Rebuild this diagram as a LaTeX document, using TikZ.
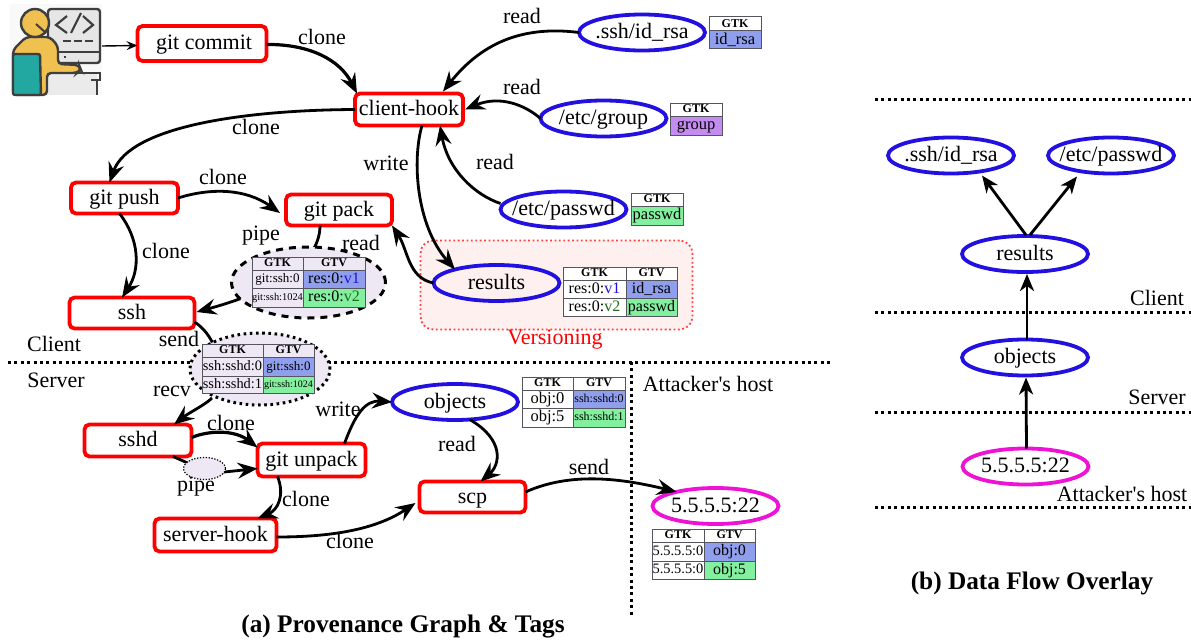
\documentclass[tikz,border=0pt]{standalone}
\usepackage{fontspec}
\setmainfont{Liberation Serif}
\newfontfamily\straightf{Liberation Serif}
\usetikzlibrary{arrows.meta,shapes.geometric,calc}
\definecolor{nodered}{HTML}{FF0000}
\definecolor{resblue}{HTML}{2210E0}
\definecolor{magent}{HTML}{EE12D6}
\definecolor{cellblue}{HTML}{8F9FEE}
\definecolor{cellgreen}{HTML}{82F09E}
\definecolor{cellpurple}{HTML}{C48CF0}
\definecolor{lav}{HTML}{EEE8F5}
\definecolor{tint}{HTML}{FDF0EE}
\definecolor{tblline}{HTML}{555560}
\definecolor{icondark}{HTML}{3E3E3E}
\definecolor{iconyel}{HTML}{F0C050}
\definecolor{iconteal}{HTML}{22A8A0}
\definecolor{icongrey}{HTML}{E6E6E6}
\definecolor{verdgreen}{HTML}{1E6B1E}
\newcommand{\fs}[1]{\fontsize{#1}{#1}\selectfont}
\newcommand{\zw}[1]{\hbox to 0pt{\hss\vphantom{Gg}\smash{\raisebox{-1.5pt}{#1}}\hss}}
\newcommand{\zc}[1]{\hbox to 0pt{\hss\vphantom{Gg}\smash{\raisebox{-0.7pt}{#1}}\hss}}
% name, x0, y0, x1, y1, fill, size, text
\newcommand{\cellbox}[8]{%
  \node[tcell,fill=#6,minimum width={(#4-#2)*1pt},minimum height={(#5-#3)*1pt}] (#1) at ({(#2+#4)/2},{(#3+#5)/2})
    {\fs{#7}\zc{#8}};}
\newcommand{\hdr}{\bfseries}
\tikzset{
  tcell/.style={draw=tblline,line width=1pt,inner sep=0pt,outer sep=0pt,rectangle},
  proc/.style={rectangle,draw=nodered,line width=3.8pt,rounded corners=5pt,fill=white,inner sep=0pt,outer sep=0pt,font=\fs{22}},
  res/.style={ellipse,draw=resblue,line width=3.8pt,fill=white,inner sep=0pt,outer sep=0pt,minimum width=126,minimum height=36,font=\fs{22}},
  sock/.style={res,draw=magent},
  lbl/.style={inner sep=0pt,font=\fs{22}},
  captxt/.style={inner sep=0pt,font=\fs{25.3}\bfseries},
  conn/.style={line width=2.8pt,draw=black,-{Stealth[length=20pt,width=16pt,inset=7pt]}},
  thinconn/.style={line width=1.4pt,draw=black,-{Stealth[length=11pt,width=9pt,inset=4pt]}},
  plainconn/.style={line width=2.8pt,draw=black},
  sepline/.style={line width=3pt,draw=black,dash pattern=on 3pt off 3.4pt},
  tagell/.style={ellipse,fill=lav,draw=black,line width=3pt,inner sep=0pt,outer sep=0pt},
  bconn/.style={line width=2.8pt,draw=black,-{Stealth[length=17pt,width=14pt,inset=5pt]}}
}
\begin{document}
\begin{tikzpicture}[x=1pt,y=-1pt]
\useasboundingbox (0,0) rectangle (1191,642);
% separators
\coordinate (sa) at (8,362); \coordinate (sb) at (833,362);
\coordinate (sc) at (631,362); \coordinate (sd) at (631,615);
\draw[sepline] (sa) -- (sb);
\draw[sepline] (sc) -- (sd);
\foreach \yy in {99,312,412,507}{\draw[sepline] (875,\yy) -- (1191,\yy);}
% versioning box
\node[rectangle,draw=red!75!white,fill=tint,line width=1.8pt,dash pattern=on 1.8pt off 2.6pt,rounded corners=13pt,minimum width=272,minimum height=89,inner sep=0pt] (verbox) at (556.5,285) {};
\node[lbl,text=red] (verlab) at (555,340) {Versioning};
% icon
\fill[icongrey!25] (10,4) rectangle (102,95);
\draw[icondark,fill=icongrey,line width=2.4pt,rounded corners=3pt] (48,9) rectangle (100,63);
\draw[icondark,line width=2.2pt] (58,52) -- (100,52);
\fill[icondark] (64,56) rectangle (66,58);
\draw[icondark,line width=2.2pt] (67,16) -- (56,25) -- (67,33);
\draw[icondark,line width=2.2pt] (81,13) -- (71,33);
\draw[icondark,line width=2.2pt] (83,16) -- (93,25) -- (83,33);
\draw[icondark,line width=1.8pt,dash pattern=on 8pt off 3pt] (63,41) -- (93,41);
\fill[icongrey!80] (47,73) rectangle (97,95);
\draw[icondark,line width=2.4pt] (47,73) -- (100,73) -- (100,80) -- (91,80);
\draw[icondark,line width=2.4pt] (97,80) -- (97,95);
\draw[icondark,fill=iconyel,line width=2.4pt,rounded corners=4pt] (13,95) -- (13,50) -- (26,37) -- (50,37) -- (58,46) -- (58,64) -- (79,65) -- (81,70) -- (77,73) -- (47,73) -- (47,95) -- cycle;
\draw[icondark,fill=iconteal,line width=2.4pt,rounded corners=2pt] (13,95) -- (13,54) -- (40,54) -- (41,95) -- cycle;
\draw[icondark,fill=iconyel,line width=2.4pt] (35,23) circle (14);
\draw[icondark,line width=2pt] (36,24) -- (46,33);
\coordinate (user) at (102,46);
% process nodes
\node[proc,minimum width=129,minimum height=35] (commit) at (202,43.5) {\zw{\hspace{4pt}git commit}};
\node[proc,minimum width=108,minimum height=32] (hook) at (409,109.5) {\zw{client-hook}};
\node[proc,minimum width=107,minimum height=31] (push) at (124.5,198) {\zw{git push}};
\node[proc,minimum width=106,minimum height=31] (pack) at (339,210) {\zw{git pack}};
\node[proc,minimum width=125,minimum height=31] (ssh) at (132,313) {\zw{ssh}};
\node[proc,minimum width=107,minimum height=32] (sshd) at (138,440.5) {\zw{sshd}};
\node[proc,minimum width=108,minimum height=33] (unpack) at (311.5,460) {\zw{git unpack}};
\node[proc,minimum width=122,minimum height=33] (shook) at (215.5,535) {\zw{server-hook}};
\node[proc,minimum width=106,minimum height=31] (scp) at (472.5,497) {\zw{scp}};
% resources
\node[res] (rsa) at (642,32.5) {\zw{.ssh/id\_rsa}};
\node[res] (group) at (603.5,118.5) {\zw{/etc/group}};
\node[res] (passwd) at (563.5,209.5) {\zw{/etc/passwd}};
\node[res,fill=tint] (results) at (496.5,283) {\zw{results}};
\node[res] (objects) at (455,402) {\zw{objects}};
\node[sock] (sock) at (715.5,506) {\zw{5.5.5.5:22}};
% edges
\draw[thinconn] (user) -- ([yshift=-2pt]commit.west);
\draw[conn,line width=3.2pt] ([yshift=-1pt]commit.east) .. controls (310,44) and (340,60) .. ([xshift=-52pt]hook.north);
\draw[conn] (hook.west) .. controls (250,110) and (130,125) .. ([xshift=-15pt]push.north);
\draw[conn] (push.east) .. controls (210,188) and (245,188) .. ([xshift=-6pt,yshift=-3pt]pack.west);
\draw[conn] ([xshift=-5pt]push.south) .. controls (140,240) and (140,270) .. ([xshift=-10pt]ssh.north);
\draw[conn] ([xshift=13pt]hook.south) .. controls (412,160) and (416,225) .. (results.162);
\draw[conn] (results.west) .. controls (408,278) and (408,250) .. (pack.south east);
\draw[conn] ([xshift=-19pt]pack.south) .. controls (320,265) and (270,292) .. ([xshift=2pt,yshift=1pt]ssh.east);
\draw[plainconn] ([yshift=-9pt]ssh.east) .. controls (212,333) and (225,360) .. (215,390);
\draw[conn] (212,398) .. controls (205,405) and (190,412) .. ([xshift=36pt]sshd.north);
\draw[conn,line width=3.2pt] ([yshift=3pt]sshd.east) .. controls (210,430) and (235,430) .. ([yshift=-4pt]unpack.north west);
\draw[plainconn] ([xshift=35pt]sshd.south) -- (190,464);
\draw[conn] (215,473) -- ([yshift=8pt]unpack.south west);
\draw[conn] ([xshift=-34pt]unpack.south) .. controls (285,495) and (278,510) .. ([xshift=42pt]shook.north);
\draw[conn] ([xshift=33pt]unpack.north) .. controls (355,415) and (365,400) .. (objects.west);
\draw[conn] (objects.-50) .. controls (505,440) and (500,465) .. ([xshift=8pt]scp.north);
\draw[conn] ([yshift=-2pt]shook.east) .. controls (330,537) and (375,530) .. ([xshift=-4pt,yshift=-6pt]scp.west);
\draw[conn] ([yshift=5pt]scp.east) .. controls (570,472) and (620,478) .. (sock.160);
\draw[conn] (rsa.west) .. controls (520,25) and (480,45) .. ([xshift=34pt,yshift=2pt]hook.north);
\draw[conn] (group.west) .. controls (525,105) and (500,95) .. ([xshift=2pt]hook.east);
\draw[conn] ([yshift=6pt]passwd.west) .. controls (475,195) and (448,170) .. ([xshift=31pt]hook.south);
% tag ellipses
\node[tagell,dash pattern=on 7pt off 6pt,minimum width=154,minimum height=71] (pipeA) at (308.5,282.5) {};
\node[tagell,dash pattern=on 2.6pt off 3.6pt,minimum width=140,minimum height=72] (sendA) at (260,369) {};
\node[tagell,line width=1.2pt,dash pattern=on 1.3pt off 1.6pt,minimum width=42,minimum height=22] (pipeB) at (204.5,468.5) {};
% labels
\node[lbl] (l1) at (322,37) {clone};
\node[lbl] (l2) at (256,127) {clone};
\node[lbl] (l3) at (223,177) {clone};
\node[lbl] (l4) at (166,251) {clone};
\node[lbl] (l5) at (522,16) {read};
\node[lbl] (l6) at (522,87) {read};
\node[lbl] (l7) at (495,162) {read};
\node[lbl] (l8) at (386,163) {write};
\node[lbl] (l9) at (261,236) {pipe};
\node[lbl] (l10) at (361,243) {read};
\node[lbl] (l11) at (179,339) {send};
\node[lbl] (l12) at (172,391) {recv};
\node[lbl] (l13) at (231,423) {clone};
\node[lbl] (l14) at (338,409) {write};
\node[lbl] (l15) at (457,444) {read};
\node[lbl] (l16) at (196,487) {pipe};
\node[lbl] (l17) at (306,499) {clone};
\node[lbl] (l18) at (350,541) {clone};
\node[lbl] (l19) at (589,467) {send};
\node[lbl] (cl) at (54,344) {Client};
\node[lbl] (sv) at (56,380) {Server};
\node[lbl] (ah) at (708,384) {\straightf Attacker's host};
\node[captxt] (capa) at (403,627) {(a) Provenance Graph \& Tags};
\node[captxt] (capb) at (1032,583) {(b) Data Flow Overlay};
% tables
\cellbox{ta1}{709}{17}{761}{31}{white}{12}{\hdr GTK}
\cellbox{ta2}{709}{31}{761}{49}{cellblue}{16.5}{id\_rsa}
\cellbox{tb1}{670}{103}{722}{116}{white}{12}{\hdr GTK}
\cellbox{tb2}{670}{116}{722}{135}{cellpurple}{16.5}{group}
\cellbox{tc1}{631}{193}{683}{206}{white}{12}{\hdr GTK}
\cellbox{tc2}{631}{206}{683}{225}{cellgreen}{16.5}{passwd}
% results table
\cellbox{td1}{563}{267}{626}{280}{white}{12}{\hdr GTK}
\cellbox{td2}{626}{267}{677}{280}{white}{12}{\hdr GTV}
\cellbox{td3}{563}{280}{626}{298}{white}{16}{res:0:\textcolor{resblue}{v1}}
\cellbox{td4}{626}{280}{677}{298}{cellblue}{16}{id\_rsa}
\cellbox{td5}{563}{298}{626}{316}{white}{16}{res:0:\textcolor{verdgreen}{v2}}
\cellbox{td6}{626}{298}{677}{316}{cellgreen}{16}{passwd}
% pipe table
\cellbox{te1}{252}{257}{303}{270}{lav}{12}{\hdr GTK}
\cellbox{te2}{303}{257}{365}{270}{lav}{12}{\hdr GTV}
\cellbox{te3}{252}{270}{303}{288}{lav}{13}{git:ssh:0}
\cellbox{te4}{303}{270}{365}{288}{cellblue}{16}{res:0:\textcolor{resblue}{v1}}
\cellbox{te5}{252}{288}{303}{307}{lav}{10.4}{git:ssh:1024}
\cellbox{te6}{303}{288}{365}{307}{cellgreen}{16}{res:0:\textcolor{verdgreen}{v2}}
% send table
\cellbox{tf1}{202}{344}{263}{357}{lav}{12}{\hdr GTK}
\cellbox{tf2}{263}{344}{314}{357}{lav}{12}{\hdr GTV}
\cellbox{tf3}{202}{357}{263}{376}{lav}{14.4}{ssh:sshd:0}
\cellbox{tf4}{263}{357}{314}{376}{cellblue}{13}{git:ssh:0}
\cellbox{tf5}{202}{376}{263}{393}{lav}{14.4}{ssh:sshd:1}
\cellbox{tf6}{263}{376}{314}{393}{cellgreen}{10}{git:ssh:1024}
% objects table
\cellbox{tg1}{522}{377}{573}{390}{white}{12}{\hdr GTK}
\cellbox{tg2}{573}{377}{625}{390}{white}{12}{\hdr GTV}
\cellbox{tg3}{522}{390}{573}{408}{white}{16.5}{obj:0}
\cellbox{tg4}{573}{390}{625}{408}{cellblue}{12}{ssh:sshd:0}
\cellbox{tg5}{522}{408}{573}{427}{white}{16.5}{obj:5}
\cellbox{tg6}{573}{408}{625}{427}{cellgreen}{12}{ssh:sshd:1}
% attacker table
\cellbox{th1}{652}{529}{704}{542}{white}{12}{\hdr GTK}
\cellbox{th2}{704}{529}{755}{542}{white}{12}{\hdr GTV}
\cellbox{th3}{652}{542}{704}{561}{white}{14.4}{5.5.5.5:0}
\cellbox{th4}{704}{542}{755}{561}{cellblue}{16}{obj:0}
\cellbox{th5}{652}{561}{704}{579}{white}{14.4}{5.5.5.5:0}
\cellbox{th6}{704}{561}{755}{579}{cellgreen}{16}{obj:5}
% panel b
\node[res] (brsa) at (951,155.5) {\zw{.ssh/id\_rsa}};
\node[res] (bpasswd) at (1111,155.5) {\zw{/etc/passwd}};
\node[res] (bresults) at (1025,254) {\zw{results}};
\node[res] (bobjects) at (1025,357.5) {\zw{objects}};
\node[sock] (bsock) at (1025.5,466.5) {\zw{5.5.5.5:22}};
\draw[bconn] ([xshift=1pt,yshift=1pt]bresults.north) -- ([xshift=31pt,yshift=-2pt]brsa.south);
\draw[bconn] ([xshift=5pt,yshift=1pt]bresults.north) -- ([xshift=-34pt,yshift=-3pt]bpasswd.south);
\draw[bconn] ([xshift=2pt]bobjects.north) -- ([xshift=2pt,yshift=-2pt]bresults.south);
\draw[bconn] ([xshift=1pt]bsock.north) -- ([xshift=1pt,yshift=-2pt]bobjects.south);
\node[lbl] (bc) at (1157,298) {Client};
\node[lbl] (bs) at (1157,397) {Server};
\node[lbl] (ba) at (1122,494) {\straightf Attacker's host};
\end{tikzpicture}
\end{document}
